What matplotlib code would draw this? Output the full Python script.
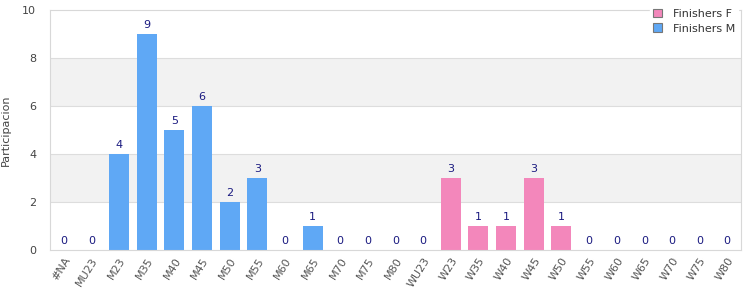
import matplotlib
matplotlib.use("Agg")
import matplotlib.pyplot as plt
import numpy as np
from matplotlib.patches import Patch

categories = ["#NA", "MU23", "M23", "M35", "M40", "M45", "M50", "M55", "M60", "M65",
              "M70", "M75", "M80", "WU23", "W23", "W35", "W40", "W45", "W50", "W55",
              "W60", "W65", "W70", "W75", "W80"]
finishers_m = [0, 0, 4, 9, 5, 6, 2, 3, 0, 1, 0, 0, 0, 0, 0, 0, 0, 0, 0, 0, 0, 0, 0, 0, 0]
finishers_f = [0, 0, 0, 0, 0, 0, 0, 0, 0, 0, 0, 0, 0, 0, 3, 1, 1, 3, 1, 0, 0, 0, 0, 0, 0]

c_m = "#5fa8f5"
c_f = "#f387bb"

fig = plt.figure(figsize=(7.5, 3), dpi=100)
ax = fig.add_axes([50/750, 1-250/300, 691/750, 240/300])

x = np.arange(len(categories))
ax.set_xlim(-0.5, len(categories)-0.5)
ax.set_ylim(0, 10)

# alternating bands
for lo in (2, 6):
    ax.axhspan(lo, lo+2, color="#f2f2f2", zorder=0, lw=0)
for yv in (2, 4, 6, 8):
    ax.axhline(yv, color="#dddddd", lw=0.8, zorder=0.5)

ax.bar(x, finishers_m, width=0.72, color=c_m, zorder=2)
ax.bar(x, finishers_f, width=0.72, bottom=finishers_m, color=c_f, zorder=2)

totals = [m + f for m, f in zip(finishers_m, finishers_f)]
for xi, t in zip(x, totals):
    ax.text(xi, t + 0.15, str(t), ha="center", va="bottom", fontsize=8, color="#1a1a80", zorder=3)

for s in ax.spines.values():
    s.set_color("#d8d8d8")
    s.set_linewidth(0.8)

ax.set_xticks(x)
ax.set_xticklabels(categories, rotation=58, ha="right", rotation_mode="anchor",
                   fontsize=8, color="#555555")
ax.tick_params(axis="x", length=0, pad=4)
ax.set_yticks([0, 2, 4, 6, 8, 10])
ax.tick_params(axis="y", length=0, labelsize=8, labelcolor="#444444", pad=10)
ax.set_ylabel("Participacion", fontsize=8, color="#444444", labelpad=8)

handles = [Patch(facecolor=c_f, edgecolor="#777777", lw=0.8),
           Patch(facecolor=c_m, edgecolor="#777777", lw=0.8)]
leg = fig.legend(handles, ["Finishers F", "Finishers M"], loc="upper left",
                 bbox_to_anchor=(644/750, 1.0), frameon=True, fontsize=8,
                 handlelength=0.8, handleheight=0.8, handletextpad=1.0,
                 labelspacing=0.4, borderpad=0.3, labelcolor="#333333")
leg.get_frame().set_facecolor("white")
leg.get_frame().set_edgecolor("white")
leg.get_frame().set_alpha(1.0)
leg.get_frame().set_boxstyle("square", pad=0)

fig.savefig("out.png", dpi=100)
